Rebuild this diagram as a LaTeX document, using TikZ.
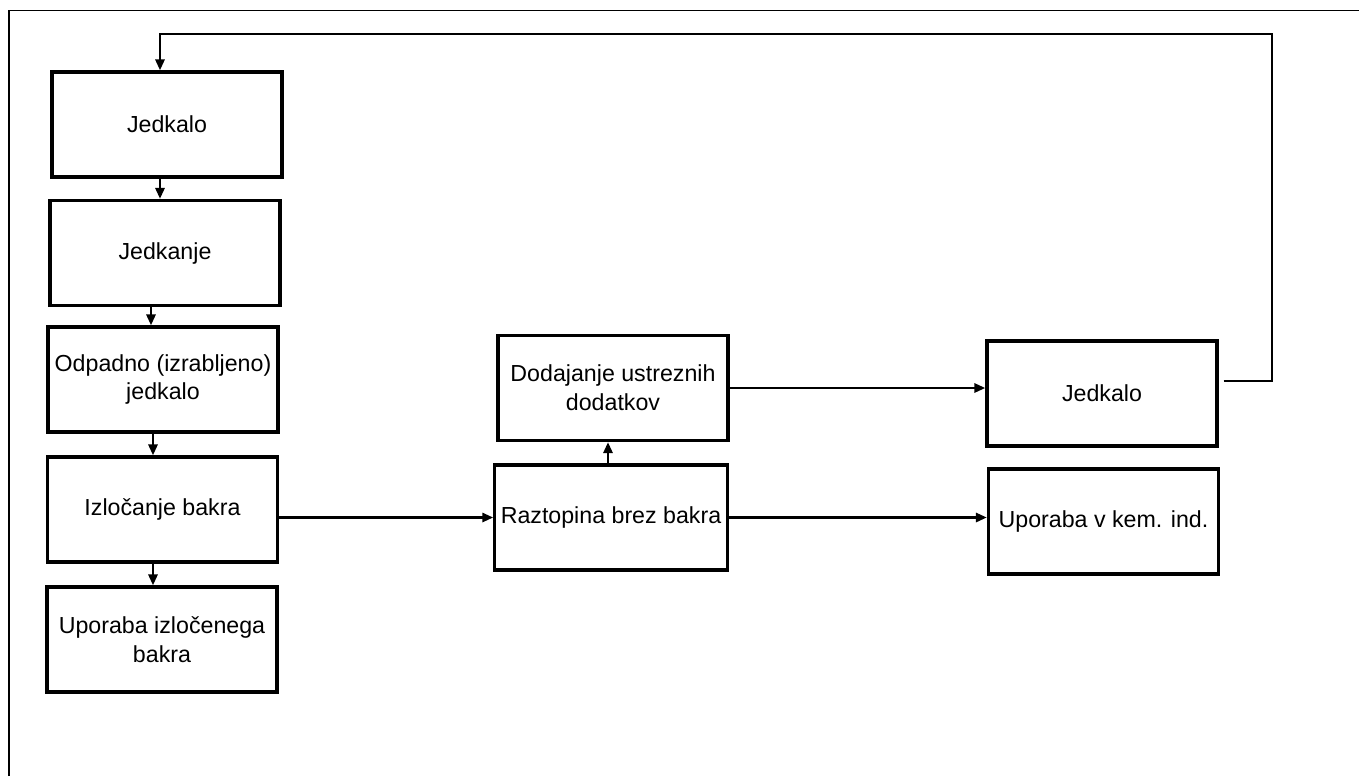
\documentclass[tikz,border=0pt]{standalone}
\usepackage{fontspec}
\setmainfont{Liberation Sans}
\usepackage{tikz}
\usetikzlibrary{arrows.meta}
\tikzset{flow/.style={line width=1.6pt, -{Triangle[length=2.2mm,width=1.8mm]}}}

\begin{document}
\begin{tikzpicture}
\useasboundingbox (0,0) rectangle (27.18,-15.52);
\draw[line width=0.7pt] (0.18,-15.52) -- (0.18,-0.21) -- (27.18,-0.21);
\begin{scope}[every node/.style={rectangle, draw, line width=1.8pt, minimum width=4.6cm, minimum height=2.1cm, align=center, font=\fontsize{13.2}{16.4}\selectfont}]
    \node (jedkalo) at (3.34,-2.49) {Jedkalo};
    \node (jedkanje) at (3.30,-5.06) {Jedkanje};
    \node (odpadno) at (3.26,-7.59) {Odpadno (izrabljeno)\\jedkalo};
    \node (izlocanje) at (3.25,-10.19) {Izločanje bakra};
    \node (uporabaCu) at (3.24,-12.79) {Uporaba izločenega\\bakra};
    \node (dodajanje) at (12.26,-7.76) {Dodajanje ustreznih\\dodatkov};
    \node (raztopina) at (12.22,-10.35) {Raztopina brez bakra};
    \node (jedkalo2) at (22.04,-7.87) {Jedkalo};
    \node (kemind) at (22.07,-10.43) {Uporaba v kem. ind.};
\end{scope}
\coordinate (ret) at (25.44,-0.68);

\draw[flow] ([xshift=-1.4mm]jedkalo.south) -- ([xshift=-1.4mm]jedkalo.south |- jedkanje.north);
\draw[flow] ([xshift=-2.8mm]jedkanje.south) -- ([xshift=-2.8mm]jedkanje.south |- odpadno.north);
\draw[flow] ([xshift=-2.0mm]odpadno.south) -- ([xshift=-2.0mm]odpadno.south |- izlocanje.north);
\draw[flow] ([xshift=-1.9mm]izlocanje.south) -- ([xshift=-1.9mm]izlocanje.south |- uporabaCu.north);
\draw[flow] (izlocanje.east |- raztopina.west) -- (raztopina.west);
\draw[flow] ([xshift=-0.6mm]raztopina.north) -- ([xshift=-0.6mm]raztopina.north |- dodajanje.south);
\draw[flow] (dodajanje.east) -- (dodajanje.east -| jedkalo2.west);
\draw[flow] (raztopina.east) -- (raztopina.east -| kemind.west);
\draw[flow] ([shift={(1mm,2.5mm)}]jedkalo2.east) -| (ret) -| ([xshift=-1.4mm]jedkalo.north);
\end{tikzpicture}
\end{document}
